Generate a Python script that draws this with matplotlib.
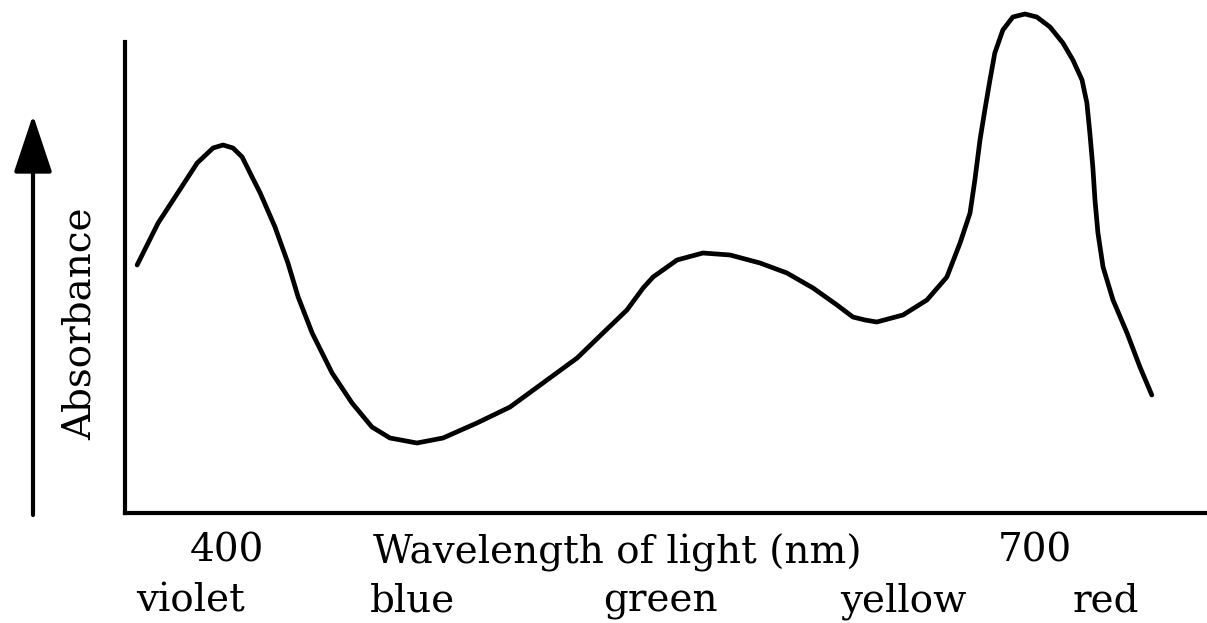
import matplotlib
matplotlib.use("Agg")
import matplotlib.pyplot as plt
from matplotlib.patches import FancyArrowPatch

plt.rcParams['font.family'] = ['DejaVu Serif']

# absorbance curve (wavelength in nm, absorbance arbitrary units)
wavelength = [366.6, 374.4, 380.7, 388.9, 394.8, 398.5, 402.2, 405.6, 409.3, 412.3,
              417.8, 422.6, 426.4, 431.6, 439.0, 446.4, 453.8, 460.5, 470.5, 480.2,
              492.8, 505.1, 517.3, 530.0, 539.6, 548.5, 554.5, 558.2, 567.1, 576.7,
              586.8, 597.9, 607.9, 617.6, 626.5, 632.4, 636.9, 641.3, 651.0, 659.9,
              667.3, 672.2, 675.9, 677.7, 679.6, 681.4, 683.3, 685.1, 688.1, 691.8,
              696.3, 700.7, 705.6, 710.4, 714.1, 717.5, 719.3, 720.4, 721.5, 722.3,
              723.4, 725.3, 729.0, 734.2, 739.0, 743.4]
absorbance = [2.48, 2.90, 3.16, 3.50, 3.65, 3.68, 3.65, 3.56, 3.36, 3.20,
              2.86, 2.50, 2.16, 1.80, 1.40, 1.10, 0.86, 0.75, 0.70, 0.75,
              0.90, 1.06, 1.30, 1.55, 1.80, 2.03, 2.25, 2.36, 2.53, 2.60,
              2.58, 2.50, 2.40, 2.25, 2.08, 1.96, 1.93, 1.91, 1.98, 2.13,
              2.36, 2.70, 3.00, 3.33, 3.73, 4.03, 4.33, 4.60, 4.83, 4.96,
              4.99, 4.96, 4.86, 4.70, 4.53, 4.33, 4.10, 3.80, 3.46, 3.13,
              2.80, 2.46, 2.13, 1.80, 1.46, 1.18]

tick_pos = [400, 700]
tick_labels = ['400', '700']
colour_pos = [386.3, 468.7, 560.8, 651.0, 726.4]
colour_names = ['violet', 'blue', 'green', 'yellow', 'red']

W, H = 1207, 623
FS = 28
fig = plt.figure(figsize=(W / 100, H / 100), dpi=100)
ax = fig.add_axes([125 / W, 110 / H, (W - 125) / W, 513 / H])

ax.plot(wavelength, absorbance, color='black', lw=3.4,
        solid_joinstyle='round', solid_capstyle='round', clip_on=False)

ax.set_xlim(362.1, 763.9)
ax.set_ylim(0, 5.13)
for s in ['top', 'right']:
    ax.spines[s].set_visible(False)
for s in ['left', 'bottom']:
    ax.spines[s].set_linewidth(3.0)
ax.spines['left'].set_bounds(0, 4.71)
ax.spines['left'].set_capstyle('projecting')

ax.set_yticks([])
ax.set_xticks(tick_pos)
ax.set_xticklabels(tick_labels, fontsize=FS, va='baseline')
ax.tick_params(axis='x', length=0, pad=49 * 0.72)

ax.annotate('Wavelength of light (nm)', xy=(545.0, 0), xycoords=('data', 'axes fraction'),
            xytext=(0, -50 * 0.72), textcoords='offset points',
            ha='center', va='baseline', fontsize=FS)
for x, name in zip(colour_pos, colour_names):
    ax.annotate(name, xy=(x, 0), xycoords=('data', 'axes fraction'),
                xytext=(0, -99 * 0.72), textcoords='offset points',
                ha='center', va='baseline', fontsize=FS)

fig.text(80 / W, 1 - 324 / H, 'Absorbance', rotation=90, ha='center', va='center', fontsize=FS)

# upward arrow next to the y label
fig.patches.append(FancyArrowPatch(
    (33 / W, 1 - 515 / H), (33 / W, 1 - 115 / H), transform=fig.transFigure,
    arrowstyle='-|>,head_length=3.6,head_width=1.2', lw=3.0, color='black',
    shrinkA=0, shrinkB=0, mutation_scale=10))

fig.savefig('out.png', dpi=100, facecolor='white')
